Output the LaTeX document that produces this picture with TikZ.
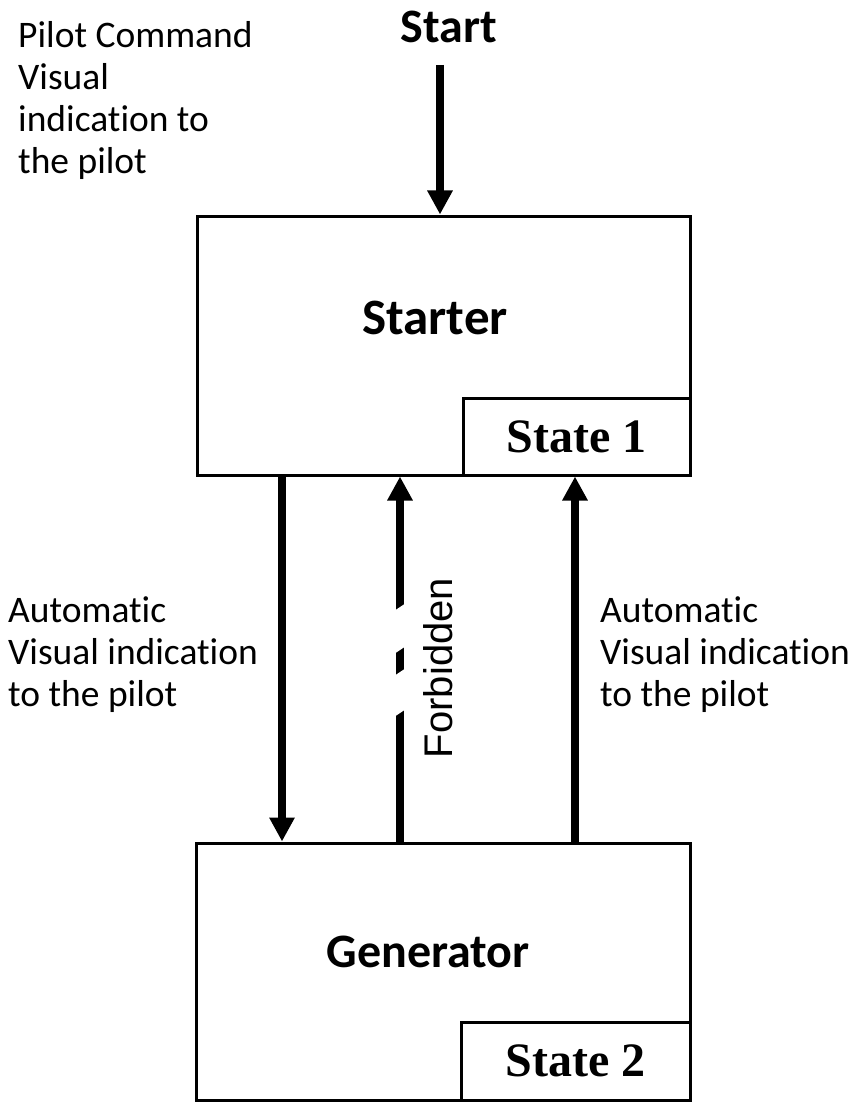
\documentclass[tikz,border=0pt]{standalone}
\usepackage{fontspec}
\setmainfont{Carlito}[Ligatures=NoCommon]
\newfontfamily\statefont{Liberation Serif}
\newfontfamily\forbfont{Liberation Sans}
\usetikzlibrary{arrows.meta}

\begin{document}
\begin{tikzpicture}[x=1pt, y=-1pt,
  box/.style={draw, line width=3pt, inner sep=0pt},
  statebox/.style={box, font=\statefont\bfseries\fontsize{48}{52}\selectfont},
  flow/.style={line width=8pt, -{Triangle[length=24pt, width=24pt]}},
  note/.style={align=left, anchor=north west, inner sep=0pt, font=\fontsize{37.5}{42}\selectfont}]
\useasboundingbox (0,0) rectangle (848,1102);

% boxes
\node[box, minimum width=493pt, minimum height=259pt] (starter) at (443.5,345.5) {};
\node[statebox, minimum width=227pt, minimum height=77pt] (state1) at (576.5,436.5) {State 1};
\node[font=\bfseries\fontsize{51}{55}\selectfont] (startername) at (435,318) {Starter};

\node[box, minimum width=494pt, minimum height=257pt] (generator) at (443,971.5) {};
\node[statebox, minimum width=229pt, minimum height=78pt] (state2) at (575.5,1061) {State 2};
\node[font=\bfseries\fontsize{48}{52}\selectfont] (generatorname) at (428,952) {Generator};

% texts
\node[font=\bfseries\fontsize{48}{52}\selectfont] (start) at (449,27) {Start};
\node[note] (pilotnote) at (18,21) {Pilot Command\\Visual\\indication to\\the pilot};
\node[note] (leftnote) at (8,596) {Automatic\\Visual indication\\to the pilot};
\node[note] (rightnote) at (600,596) {Automatic\\Visual indication\\to the pilot};
\node[rotate=90, font=\forbfont\fontsize{40}{44}\selectfont] (forbidden) at (438,668) {Forbidden};

% arrows
\coordinate (starttail) at (440,65);
\coordinate (downx) at (282,0);
\coordinate (forbx) at (400,0);
\coordinate (upx) at (575,0);
\draw[flow] (starttail) -- (starttail |- starter.north);
\draw[flow] (starter.south -| downx) -- (generator.north -| downx);
\draw[flow] (generator.north -| forbx) -- (starter.south -| forbx);
\draw[flow] (generator.north -| upx) -- (starter.south -| upx);

% breaks in the forbidden arrow
\fill[white] (394,611) -- (406,603) -- (406,646) -- (394,654) -- cycle;
\fill[white] (394,676) -- (406,668) -- (406,709) -- (394,717) -- cycle;
\end{tikzpicture}
\end{document}
